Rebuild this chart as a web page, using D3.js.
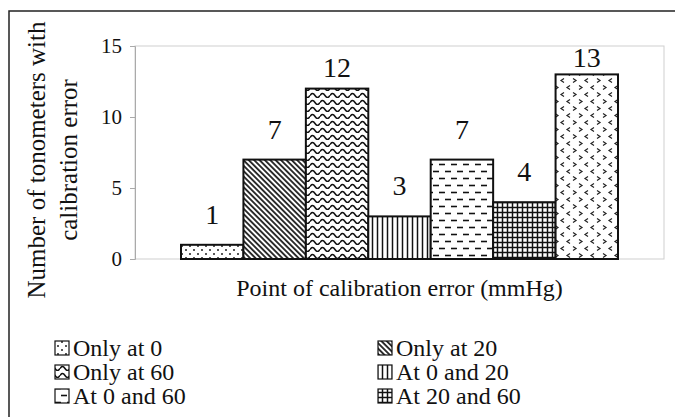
<!DOCTYPE html>
<html>
<head>
<meta charset="utf-8">
<script src="https://cdn.jsdelivr.net/npm/d3@7/dist/d3.min.js"></script>
<style>
  html, body { margin: 0; padding: 0; background: #fff; }
  svg { display: block; }
  svg text { font-family: 'Liberation Serif', 'Times New Roman', Times, Tinos, 'DejaVu Serif', serif !important; fill: #111; }
</style>
</head>
<body>
<svg id="chart" width="675" height="417"></svg>
<script>
// ---- data ----
const categories = ["Only at 0", "Only at 20", "Only at 60", "At 0 and 20", "At 0 and 60", "At 20 and 60", "At 0, 20 and 60"];
const counts = [1, 7, 12, 3, 7, 4, 13];
const yTicks = [0, 5, 10, 15];
const legendItems = ["Only at 0", "Only at 20", "Only at 60", "At 0 and 20", "At 0 and 60", "At 20 and 60"];
const patternIds = ["pDots", "pDiag", "pWave", "pVert", "pDash", "pGrid", "pChev"];
const yTitleLines = ["Number of tonometers with", "calibration error"];
const xTitle = "Point of calibration error (mmHg)";

const FONT = "'Liberation Serif', 'Times New Roman', Times, Tinos, 'DejaVu Serif', serif";
const svg = d3.select("#chart").attr("font-family", FONT);
const W = 675, H = 417;

// ---- patterns ----
const defs = svg.append("defs");
function pat(id, w, h) {
  return defs.append("pattern").attr("id", id).attr("patternUnits", "userSpaceOnUse")
    .attr("width", w).attr("height", h);
}
// dots
let p = pat("pDots", 8, 8);
p.append("rect").attr("width", 8).attr("height", 8).attr("fill", "#fff");
p.append("circle").attr("cx", 2).attr("cy", 2).attr("r", 1).attr("fill", "#222");
p.append("circle").attr("cx", 6).attr("cy", 6).attr("r", 1).attr("fill", "#222");
// diagonal (\\)
p = pat("pDiag", 3.8, 3.8).attr("patternTransform", "rotate(45)");
p.append("rect").attr("width", 3.8).attr("height", 3.8).attr("fill", "#fff");
p.append("line").attr("x1", 0).attr("y1", 1.9).attr("x2", 3.8).attr("y2", 1.9).attr("stroke", "#111").attr("stroke-width", 1.7);
// waves
p = pat("pWave", 10, 7);
p.append("rect").attr("width", 10).attr("height", 7).attr("fill", "#fff");
p.append("path").attr("d", "M0,4.5 Q2.5,0.5 5,4.5 T10,4.5").attr("fill", "none").attr("stroke", "#111").attr("stroke-width", 1.5);
// vertical lines
p = pat("pVert", 5, 5);
p.append("rect").attr("width", 5).attr("height", 5).attr("fill", "#fff");
p.append("line").attr("x1", 2.5).attr("y1", 0).attr("x2", 2.5).attr("y2", 5).attr("stroke", "#111").attr("stroke-width", 1.5);
// dashes
p = pat("pDash", 12, 14);
p.append("rect").attr("width", 12).attr("height", 14).attr("fill", "#fff");
p.append("line").attr("x1", 1).attr("y1", 3.5).attr("x2", 7).attr("y2", 3.5).attr("stroke", "#111").attr("stroke-width", 1.6);
p.append("line").attr("x1", 7).attr("y1", 10.5).attr("x2", 13).attr("y2", 10.5).attr("stroke", "#111").attr("stroke-width", 1.6);
p.append("line").attr("x1", -5).attr("y1", 10.5).attr("x2", 1).attr("y2", 10.5).attr("stroke", "#111").attr("stroke-width", 1.6);
// grid
p = pat("pGrid", 5, 5);
p.append("rect").attr("width", 5).attr("height", 5).attr("fill", "#fff");
p.append("line").attr("x1", 2.5).attr("y1", 0).attr("x2", 2.5).attr("y2", 5).attr("stroke", "#111").attr("stroke-width", 1.5);
p.append("line").attr("x1", 0).attr("y1", 2.5).attr("x2", 5).attr("y2", 2.5).attr("stroke", "#111").attr("stroke-width", 1.5);
// chevrons
p = pat("pChev", 24, 14);
p.append("rect").attr("width", 24).attr("height", 14).attr("fill", "#fff");
const chev = [["M3,1.5 L6,3.5 L3,5.5"], ["M18,1.5 L15,3.5 L18,5.5"], ["M12,8.5 L9,10.5 L12,12.5"], ["M21,8.5 L24,10.5 L21,12.5"], ["M-3,8.5 L0,10.5 L-3,12.5"]];
chev.forEach(d => p.append("path").attr("d", d[0]).attr("fill", "none").attr("stroke", "#222").attr("stroke-width", 1.2));

// ---- outer frame ----
svg.append("rect").attr("x", 9).attr("y", 11).attr("width", W + 20).attr("height", H + 20)
  .attr("fill", "none").attr("stroke", "#222").attr("stroke-width", 1.5);

// ---- plot area ----
const plot = { left: 135, right: 664, top: 46, bottom: 259 };
svg.append("rect").attr("x", plot.left).attr("y", plot.top)
  .attr("width", plot.right - plot.left).attr("height", plot.bottom - plot.top)
  .attr("fill", "none").attr("stroke", "#cfcfcf").attr("stroke-width", 1);

const x = d3.scaleBand().domain(categories).range([181, 618]).padding(0);
const y = d3.scaleLinear().domain([0, 15]).range([plot.bottom, plot.top]);

const yAxis = svg.append("g").attr("transform", `translate(${plot.left},0)`)
  .call(d3.axisLeft(y).tickValues(yTicks).tickSize(5).tickPadding(8));
yAxis.attr("font-family", FONT);
yAxis.select(".domain").attr("stroke", "#aaa");
yAxis.selectAll(".tick line").attr("stroke", "#aaa");
yAxis.selectAll(".tick text").attr("font-size", 21).attr("fill", "#111");

// bars
svg.append("g").selectAll("rect").data(categories).join("rect")
  .attr("x", d => x(d))
  .attr("y", (d, i) => y(counts[i]))
  .attr("width", x.bandwidth())
  .attr("height", (d, i) => y(0) - y(counts[i]))
  .attr("fill", (d, i) => `url(#${patternIds[i]})`)
  .attr("stroke", "#111").attr("stroke-width", 2);

// value labels
svg.append("g").selectAll("text").data(categories).join("text")
  .attr("x", d => x(d) + x.bandwidth() / 2)
  .attr("y", (d, i) => {
    const top = y(counts[i]);
    const gap = Math.max(5, Math.min(21, (top - plot.top) * 0.35 - 3));
    return top - gap;
  })
  .attr("text-anchor", "middle").attr("font-size", 28)
  .text((d, i) => counts[i]);

// axis titles
svg.append("text").attr("x", (plot.left + plot.right) / 2).attr("y", 296)
  .attr("text-anchor", "middle").attr("font-size", 24).text(xTitle);
const yt = svg.append("text").attr("transform", "translate(0,160) rotate(-90)")
  .attr("text-anchor", "middle").attr("font-size", 25);
yt.selectAll("tspan").data(yTitleLines).join("tspan")
  .attr("x", 0).attr("y", (d, i) => i === 0 ? 45 : 77).text(d => d);

// legend
const lg = svg.append("g");
legendItems.forEach((name, i) => {
  const col = i % 2, row = Math.floor(i / 2);
  const gx = col === 0 ? 55 : 378;
  const gy = 348 + row * 24;
  lg.append("rect").attr("x", gx).attr("y", gy - 7).attr("width", 14).attr("height", 14)
    .attr("fill", `url(#${patternIds[i]})`).attr("stroke", "#111").attr("stroke-width", 1.2);
  lg.append("text").attr("x", gx + 18).attr("y", gy + 8).attr("font-size", 24).text(name);
});
</script>
</body>
</html>
